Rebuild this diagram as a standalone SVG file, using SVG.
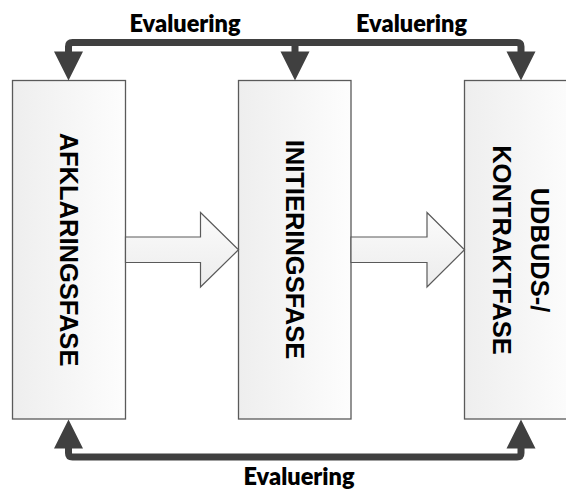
<svg xmlns="http://www.w3.org/2000/svg" width="566" height="490" viewBox="0 0 566 490">
  <style>
    .box { stroke: #5a5a5a; stroke-width: 1.3; }
    .flow { fill: url(#arrowFill); stroke: #5a5a5a; stroke-width: 1.2; stroke-linejoin: miter; }
    .conn { fill: none; stroke: #404040; stroke-width: 7; stroke-linejoin: round; }
    .head { fill: #404040; }
    .phase { font-family: "Liberation Sans", Arial, sans-serif; font-weight: bold; font-size: 25.5px; fill: #000; text-anchor: middle; }
    .label { font-family: Lato, "Liberation Sans", sans-serif; font-weight: 800; font-size: 23.5px; fill: #000; text-anchor: middle; }
  </style>
  <defs>
    <linearGradient id="boxFill" x1="0" y1="0" x2="1" y2="0">
      <stop offset="0" stop-color="#eeeeee"/>
      <stop offset="1" stop-color="#fdfdfd"/>
    </linearGradient>
    <linearGradient id="arrowFill" x1="0" y1="0" x2="0" y2="1">
      <stop offset="0" stop-color="#fbfbfb"/>
      <stop offset="1" stop-color="#ececec"/>
    </linearGradient>
  </defs>

  <rect width="566" height="490" fill="#ffffff"/>

  <!-- phase boxes -->
  <g id="afklaring">
    <rect class="box" x="12.5" y="80.5" width="113" height="338.5" fill="url(#boxFill)"/>
    <text class="phase" transform="translate(69,249.5) rotate(90)" x="0" y="9">AFKLARINGSFASE</text>
  </g>
  <g id="initiering">
    <rect class="box" x="238.5" y="80.5" width="112.5" height="338.5" fill="url(#boxFill)"/>
    <text class="phase" transform="translate(295,249.5) rotate(90)" x="0" y="9">INITIERINGSFASE</text>
  </g>
  <g id="udbud">
    <rect class="box" x="464.5" y="80.5" width="113" height="338.5" fill="url(#boxFill)"/>
    <text class="phase" transform="translate(521,250) rotate(90)" x="0" y="-10">UDBUDS-/</text>
    <text class="phase" transform="translate(521,250) rotate(90)" x="0" y="28.3">KONTRAKTFASE</text>
  </g>

  <!-- connectors -->
  <g id="connectors">
    <!-- block arrows between phases -->
    <polygon class="flow" points="125.5,237 200.5,237 200.5,212.5 238.5,249.75 200.5,287 200.5,262.5 125.5,262.5"/>
    <polygon class="flow" points="351,237 427,237 427,212.5 464.5,249.75 427,287 427,262.5 351,262.5"/>

    <!-- evaluation loop above -->
    <path class="conn" d="M68.5,53 V46.5 Q68.5,42.5 72.5,42.5 H517 Q521,42.5 521,46.5 V53 M295,42.5 V53"/>
    <polygon class="head" points="54,51.5 83,51.5 68.5,80.5"/>
    <polygon class="head" points="280.5,51.5 309.5,51.5 295,80.5"/>
    <polygon class="head" points="506.5,51.5 535.5,51.5 521,80.5"/>

    <!-- evaluation loop below -->
    <path class="conn" d="M68.5,447 V453 Q68.5,457 72.5,457 H517 Q521,457 521,453 V447"/>
    <polygon class="head" points="54,448.5 83,448.5 68.5,419.5"/>
    <polygon class="head" points="506.5,448.5 535.5,448.5 521,419.5"/>

    <text class="label" x="185" y="32">Evaluering</text>
    <text class="label" x="411.5" y="32">Evaluering</text>
    <text class="label" x="299" y="485">Evaluering</text>
  </g>
</svg>
